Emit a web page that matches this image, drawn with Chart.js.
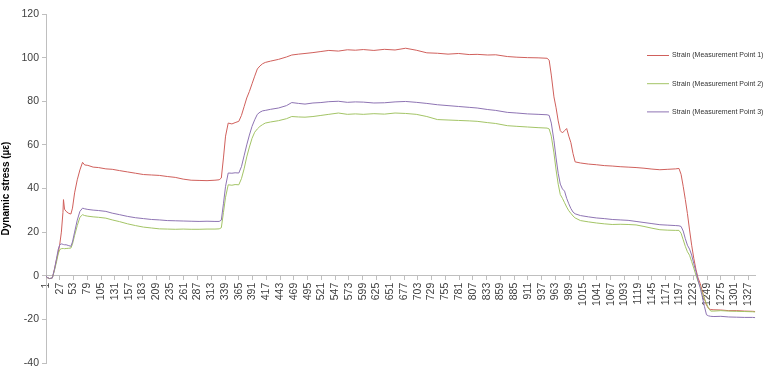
<!DOCTYPE html>
<html>
<head>
<meta charset="utf-8">
<script src="https://cdn.jsdelivr.net/npm/chart.js@4/dist/chart.umd.min.js"></script>
<style>
  html, body { margin: 0; padding: 0; background: #ffffff; }
  #wrap { width: 764px; height: 370px; position: relative; }
</style>
</head>
<body>
<div id="wrap"><canvas id="chart" width="764" height="370"></canvas></div>
<script>
// Sample number (x) at which each strain reading below is taken
const sampleIndex = [
  1, 3, 8, 13, 17, 21, 24, 27, 30, 33,
  34, 36, 39, 44, 48, 51, 55, 60, 65, 70,
  74, 80, 90, 100, 114, 126, 140, 155, 170, 185,
  200, 215, 230, 245, 260, 275, 290, 305, 320, 328,
  332, 336, 340, 345, 352, 358, 365, 370, 375, 380,
  385, 390, 395, 400, 405, 410, 415, 425, 440, 455,
  465, 478, 490, 505, 520, 535, 553, 570, 585, 600,
  620, 640, 660, 680, 700, 720, 740, 760, 780, 800,
  815, 835, 850, 872, 890, 910, 930, 947, 951, 955,
  960, 964, 968, 972, 976, 980, 984, 988, 992, 996,
  1000, 1010, 1025, 1040, 1055, 1070, 1085, 1100, 1115, 1130,
  1145, 1160, 1175, 1190, 1196, 1200, 1204, 1208, 1212, 1216,
  1220, 1224, 1228, 1232, 1236, 1240, 1244, 1248, 1252, 1256,
  1262, 1275, 1290, 1305, 1320, 1335, 1340
];

// Strain, measurement point 1 (µε)
const strainPoint1 = [
  0, -0.8, -1.3, -1.0, 3, 7.5, 10.5, 14.5, 20, 29,
  34.9, 30.5, 29.5, 28.6, 28.3, 31, 38, 44, 48.5, 52,
  50.8, 50.6, 49.8, 49.6, 49.0, 48.8, 48.2, 47.6, 47.0, 46.4,
  46.2, 46.0, 45.5, 45.1, 44.3, 43.8, 43.7, 43.6, 43.8, 44.0,
  44.8, 54, 64, 70, 69.6, 70.2, 70.8, 73.5, 77.5, 81.5,
  84.5, 88, 91.5, 94.8, 96.2, 97.2, 97.8, 98.4, 99.2, 100.3,
  101.2, 101.6, 101.9, 102.3, 102.8, 103.3, 103.0, 103.6, 103.4, 103.7,
  103.3, 103.8, 103.5, 104.3, 103.4, 102.2, 102.0, 101.6, 101.9, 101.4,
  101.5, 101.2, 101.3, 100.5, 100.2, 100.0, 99.9, 99.7, 98.8, 92,
  82, 77, 71, 66.5, 65.5, 66.5, 67.5, 64, 61, 56,
  52.2, 51.7, 51.2, 50.9, 50.5, 50.3, 50.0, 49.8, 49.6, 49.3,
  48.9, 48.6, 48.8, 49.0, 49.2, 46.5, 41, 35, 28.5, 21,
  14, 8, 3, -1, -3.5, -7, -10.5, -13.5, -15, -15.5,
  -15.6, -15.7, -16.0, -16.0, -16.2, -16.3, -16.4
];

// Strain, measurement point 2 (µε)
const strainPoint2 = [
  0, -0.8, -1.3, -1.0, 2.5, 6.5, 10, 12, 12.4, 12.5,
  12.5, 12.4, 12.5, 12.6, 12.7, 14.5, 18.5, 23, 26.8, 28,
  27.6, 27.3, 27.0, 26.8, 26.4, 25.6, 24.8, 23.8, 23.0, 22.3,
  21.9, 21.5, 21.4, 21.3, 21.4, 21.3, 21.3, 21.4, 21.4, 21.5,
  22.0, 29, 36, 41.7, 41.5, 41.8, 41.7, 44.5, 49, 54.5,
  59, 63, 65.8, 67.3, 68.5, 69.3, 70.0, 70.5, 71.1, 72.0,
  73.0, 72.8, 72.7, 73.0, 73.5, 74.0, 74.6, 74.0, 74.2, 74.0,
  74.3, 74.1, 74.6, 74.4, 74.0, 73.0, 71.6, 71.4, 71.2, 71.0,
  70.8, 70.2, 69.8, 68.8, 68.5, 68.2, 67.9, 67.7, 67.3, 64,
  56.3, 48.5, 42, 37.2, 35.5, 33.5, 31.5, 29.8, 28.6, 27.4,
  26.5, 25.3, 24.7, 24.2, 23.8, 23.5, 23.6, 23.5, 23.3, 22.6,
  21.8, 21.1, 20.9, 20.8, 20.8, 19.5, 16.5, 13.5, 11, 9.4,
  6.5, 3.5, 0.3, -2.5, -5, -7.8, -10.5, -12.8, -15, -16.2,
  -16.2, -16.0, -16.2, -16.3, -16.4, -16.5, -16.6
];

// Strain, measurement point 3 (µε)
const strainPoint3 = [
  0, -0.8, -1.3, -1.0, 3, 8, 12, 14.2, 14.6, 14.4,
  14.3, 14.2, 14.2, 13.8, 13.5, 15.5, 20, 25.5, 29.5, 31,
  30.7, 30.4, 30.1, 29.9, 29.5, 28.7, 28.0, 27.2, 26.6, 26.2,
  25.8, 25.6, 25.3, 25.2, 25.1, 25.0, 24.9, 25.0, 24.9, 24.9,
  25.5, 33, 41, 47.1, 47.0, 47.2, 47.1, 50, 55, 60,
  64.5, 68.5, 71.5, 74.0, 75.0, 75.6, 75.8, 76.3, 76.9, 78.0,
  79.4, 79.0, 78.7, 79.2, 79.4, 79.8, 80.0, 79.5, 79.7, 79.6,
  79.2, 79.3, 79.7, 79.9, 79.5, 79.0, 78.4, 78.0, 77.6, 77.2,
  76.9, 76.2, 75.8, 74.9, 74.6, 74.2, 74.0, 73.8, 73.5, 70,
  62, 54, 47, 42, 39.8, 38.8, 35.5, 33, 30.8, 29.2,
  28.4, 27.6, 27.0, 26.5, 26.2, 25.8, 25.6, 25.4, 24.9, 24.4,
  23.9, 23.4, 23.2, 23.0, 22.9, 22.6, 20.5, 17, 14, 12.2,
  9.5, 5.5, 2, -2, -5.5, -9.5, -14, -17.9, -18.4, -18.6,
  -18.7, -18.6, -18.9, -19.0, -19.1, -19.1, -19.2
];

const seriesNames = [
  'Strain (Measurement Point 1)',
  'Strain (Measurement Point 2)',
  'Strain (Measurement Point 3)'
];

// Category labels shown along the horizontal axis
const xTickLabels = [
  1, 27, 53, 79, 105, 131, 157, 183, 209, 235, 261, 287, 313, 339, 365, 391,
  417, 443, 469, 495, 521, 547, 573, 599, 625, 651, 677, 703, 729, 755, 781,
  807, 833, 859, 885, 911, 937, 963, 989, 1015, 1041, 1067, 1093, 1119, 1145,
  1171, 1197, 1223, 1249, 1275, 1301, 1327
];
const yTickValues = [-40, -20, 0, 20, 40, 60, 80, 100, 120];

const lineColors = ['#D0605C', '#A3C466', '#8E74B3'];
const axisGray = '#BFBFBF';
const textGray = '#404040';
const baseFont = "'Liberation Sans Narrow', 'Liberation Sans', Arial, sans-serif";

function toPoints(values) {
  return sampleIndex.map((x, i) => ({ x: x, y: values[i] }));
}

// Legend drawn over the right edge of the plot area
const sideLegend = {
  id: 'sideLegend',
  afterDraw(chart) {
    const ctx = chart.ctx;
    ctx.save();
    chart.data.datasets.forEach((ds, i) => {
      const y = 55.5 + i * 28.2;
      ctx.strokeStyle = ds.borderColor;
      ctx.lineWidth = 1;
      ctx.beginPath();
      ctx.moveTo(647, y);
      ctx.lineTo(669, y);
      ctx.stroke();
      ctx.fillStyle = '#333333';
      ctx.font = "7px " + baseFont;
      ctx.textBaseline = 'middle';
      ctx.textAlign = 'left';
      ctx.fillText(ds.label, 672, y);
    });
    ctx.restore();
  }
};

new Chart(document.getElementById('chart'), {
  type: 'line',
  data: {
    datasets: [
      { label: seriesNames[0], data: toPoints(strainPoint1), borderColor: lineColors[0] },
      { label: seriesNames[1], data: toPoints(strainPoint2), borderColor: lineColors[1] },
      { label: seriesNames[2], data: toPoints(strainPoint3), borderColor: lineColors[2] }
    ].map((d, i) => Object.assign(d, {
      borderWidth: 1, pointRadius: 0, tension: 0, fill: false, order: 3 - i
    }))
  },
  options: {
    responsive: false,
    animation: false,
    events: [],
    layout: { padding: { top: 14, right: 6, bottom: 7, left: 0 } },
    plugins: { legend: { display: false }, tooltip: { enabled: false } },
    scales: {
      x: {
        type: 'linear',
        min: 1,
        max: 1340,
        position: { y: 0 },
        afterBuildTicks(axis) {
          axis.ticks = xTickLabels.map(v => ({ value: v }));
        },
        grid: { drawOnChartArea: false, drawTicks: true, tickLength: 4, color: axisGray },
        border: { display: true, color: axisGray, width: 1 },
        ticks: {
          autoSkip: false, maxRotation: 90, minRotation: 90, padding: 3,
          color: textGray, font: { family: baseFont, size: 10.5 },
          callback: v => String(v)
        }
      },
      y: {
        type: 'linear',
        min: -40,
        max: 120,
        afterBuildTicks(axis) {
          axis.ticks = yTickValues.map(v => ({ value: v }));
        },
        afterFit(axis) {
          axis.width = 46;
          axis.paddingTop = 0;
          axis.paddingBottom = 0;
        },
        grid: { drawOnChartArea: false, drawTicks: true, tickLength: 4, color: axisGray },
        border: { display: true, color: axisGray, width: 1 },
        ticks: { padding: 3, color: textGray, font: { family: baseFont, size: 10.5 } },
        title: {
          display: true, text: 'Dynamic stress (µε)', color: '#000000',
          font: { family: baseFont, size: 10, weight: 'bold' }, padding: { top: 0, bottom: 2 }
        }
      }
    }
  },
  plugins: [sideLegend]
});
</script>
</body>
</html>
